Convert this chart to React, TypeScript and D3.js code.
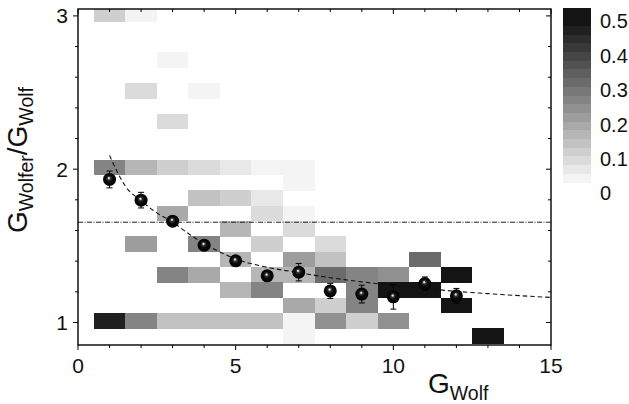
import React from "react";
import * as d3 from "d3";

// Axis ticks
const xMajorTicks = [0, 5, 10, 15];
const yMajorTicks = [1, 2, 3];
const colorbarTicks = [0, 0.1, 0.2, 0.3, 0.4, 0.5];

// Heat-map rows: ratio bin -> [G_Wolf column, fraction]
const row30: [number, number][] = [[1, 0.095], [2, 0.015]];
const row27: [number, number][] = [[3, 0.01]];
const row25: [number, number][] = [[2, 0.055], [4, 0.012]];
const row23: [number, number][] = [[3, 0.06]];
const row20: [number, number][] = [[1, 0.235], [2, 0.14], [3, 0.095], [4, 0.06], [5, 0.03], [6, 0.012], [7, 0.01]];
const row19: [number, number][] = [[7, 0.01]];
const row18: [number, number][] = [[4, 0.11], [5, 0.085], [6, 0.03]];
const row17: [number, number][] = [[3, 0.16], [6, 0.055], [7, 0.01]];
const row16: [number, number][] = [[5, 0.14], [7, 0.055]];
const row15: [number, number][] = [[2, 0.185], [4, 0.23], [6, 0.085], [8, 0.055]];
const row14: [number, number][] = [[5, 0.14], [7, 0.18], [8, 0.11], [11, 0.28]];
const row13: [number, number][] = [[3, 0.235], [4, 0.16], [6, 0.13], [7, 0.13], [8, 0.28], [9, 0.23], [10, 0.205], [12, 0.48]];
const row12: [number, number][] = [[5, 0.14], [6, 0.23], [9, 0.23], [10, 0.48], [11, 0.48]];
const row11: [number, number][] = [[7, 0.16], [8, 0.085], [9, 0.23], [12, 0.48]];
const row10: [number, number][] = [[1, 0.43], [2, 0.23], [3, 0.11], [4, 0.11], [5, 0.11], [6, 0.11], [7, 0.01], [8, 0.205], [9, 0.085], [10, 0.205]];
const row09: [number, number][] = [[7, 0.01], [13, 0.48]];

const heatRows: [number, [number, number][]][] = [
  [3.0, row30], [2.7, row27], [2.5, row25], [2.3, row23], [2.0, row20],
  [1.9, row19], [1.8, row18], [1.7, row17], [1.6, row16], [1.5, row15],
  [1.4, row14], [1.3, row13], [1.2, row12], [1.1, row11], [1.0, row10], [0.9, row09],
];

// Mean ratio per G_Wolf with error bars
const meanX = [1, 2, 3, 4, 5, 6, 7, 8, 9, 10, 11, 12];
const meanRatio = [1.933, 1.798, 1.661, 1.504, 1.402, 1.304, 1.328, 1.206, 1.185, 1.167, 1.254, 1.174];
const meanErr = [0.055, 0.051, 0.03, 0.03, 0.03, 0.03, 0.057, 0.049, 0.058, 0.08, 0.043, 0.048];

// Fitted trend (dashed)
const fitX = [1, 1.25, 1.5, 2, 2.5, 3, 3.5, 4, 4.5, 5, 6, 7, 8, 9, 10, 11, 12, 13, 14, 15];
const fitRatio = [2.09, 1.98, 1.89, 1.795, 1.715, 1.655, 1.58, 1.515, 1.46, 1.415, 1.36, 1.325, 1.292, 1.265, 1.242, 1.222, 1.203, 1.188, 1.175, 1.163];

// Reference level (dash-dot)
const thresholdRatio = 1.654;

const W = 629;
const H = 404;
const left = 78, right = 551, top = 9, bottom = 345;
const font = "'Liberation Sans', Arial, sans-serif";

const x = d3.scaleLinear().domain([0, 15]).range([left, right]);
const y = d3.scaleLinear().domain([0.853, 3.045]).range([bottom, top]);

// 20 grey levels, top two identical
const levelColors = d3.range(20).map((i) =>
  d3.interpolateRgb("#f4f4f4", "#141414")(Math.min(i, 18) / 18)
);
const color = d3.scaleQuantize<string>().domain([0, 0.5]).range(levelColors);

// Colour bar geometry
const cbX0 = 563, cbX1 = 591, cbTop = 8, cbBottom = 182;
const cbBand = d3.scaleBand<number>().domain(d3.range(20)).range([cbBottom, cbTop]);
const cbLabel = d3.scaleLinear().domain([0, 0.5]).range([193, 21]);

export default function App() {
  const cells: { c: number; r: number; v: number }[] = [];
  heatRows.forEach(([r, list]) => list.forEach(([c, v]) => cells.push({ c, r, v })));

  const fitPath = d3
    .line<number>()
    .x((_, i) => x(fitX[i]))
    .y((d) => y(d))
    .curve(d3.curveMonotoneX)(fitRatio) as string;

  const xMinor = d3.range(0, 16);
  const yMinor = d3.range(0, 11).map((k) => 1 + k * 0.2);

  return (
    <svg
      width={W}
      height={H}
      style={{ position: "absolute", left: 0, top: 0, background: "#fff" }}
      fontFamily={font}
    >
      <defs>
        <clipPath id="plot">
          <rect x={left} y={top} width={right - left} height={bottom - top} />
        </clipPath>
        <radialGradient id="ball" cx="50%" cy="50%" r="52%" fx="44%" fy="38%">
          <stop offset="0%" stopColor="#ffffff" />
          <stop offset="10%" stopColor="#cfcfcf" />
          <stop offset="24%" stopColor="#3a3a3a" />
          <stop offset="48%" stopColor="#0c0c0c" />
          <stop offset="100%" stopColor="#000000" />
        </radialGradient>
      </defs>
      <rect x={0} y={0} width={W} height={H} fill="#fff" />

      <g clipPath="url(#plot)">
        {cells.map((d, i) => (
          <rect
            key={i}
            x={x(d.c - 0.5)}
            width={x(d.c + 0.5) - x(d.c - 0.5)}
            y={y(d.r + 0.062)}
            height={y(d.r - 0.04) - y(d.r + 0.062)}
            fill={color(d.v)}
            shapeRendering="crispEdges"
          />
        ))}
        <line
          x1={left}
          x2={right}
          y1={y(thresholdRatio)}
          y2={y(thresholdRatio)}
          stroke="#222"
          strokeWidth={1}
          strokeDasharray="5,1.5,1,1.5"
        />
        <path d={fitPath} fill="none" stroke="#111" strokeWidth={1.1} strokeDasharray="4.5,3" />
      </g>

      {meanX.map((mx, i) => {
        const cx = x(mx);
        const y0 = y(meanRatio[i] - meanErr[i]);
        const y1 = y(meanRatio[i] + meanErr[i]);
        return (
          <g key={i} stroke="#000" strokeWidth={1}>
            <line x1={cx} x2={cx} y1={y0} y2={y1} />
            <line x1={cx - 3} x2={cx + 3} y1={y0} y2={y0} />
            <line x1={cx - 3} x2={cx + 3} y1={y1} y2={y1} />
          </g>
        );
      })}
      {meanX.map((mx, i) => (
        <circle key={i} cx={x(mx)} cy={y(meanRatio[i])} r={6.5} fill="url(#ball)" />
      ))}

      {/* frame */}
      <rect x={left} y={top} width={right - left} height={bottom - top} fill="none" stroke="#000" strokeWidth={1.4} />

      {/* x ticks: bottom outward, top inward */}
      {xMinor.map((t) => {
        const len = xMajorTicks.includes(t) ? 5 : 3;
        return (
          <g key={t} stroke="#000" strokeWidth={1}>
            <line x1={x(t)} x2={x(t)} y1={bottom} y2={bottom + len} />
            <line x1={x(t)} x2={x(t)} y1={top} y2={top + len} />
          </g>
        );
      })}
      {/* y ticks: left outward, right inward */}
      {yMinor.map((t, i) => {
        const len = i % 5 === 0 ? 5 : 3;
        return (
          <g key={i} stroke="#000" strokeWidth={1}>
            <line x1={left - len} x2={left} y1={y(t)} y2={y(t)} />
            <line x1={right - len} x2={right} y1={y(t)} y2={y(t)} />
          </g>
        );
      })}

      {xMajorTicks.map((t) => (
        <text key={t} x={x(t)} y={373} fontSize={21} textAnchor="middle" fill="#111">
          {t}
        </text>
      ))}
      {yMajorTicks.map((t) => (
        <text key={t} x={68} y={y(t) + 7.5} fontSize={21} textAnchor="end" fill="#111">
          {t}
        </text>
      ))}

      {/* axis titles */}
      <text x={428} y={393} fill="#111">
        <tspan fontSize={28}>G</tspan>
        <tspan fontSize={19.5} dy={7}>Wolf</tspan>
      </text>
      <text transform="translate(27,233) rotate(-90)" fill="#111">
        <tspan fontSize={28}>G</tspan>
        <tspan fontSize={19.5} dy={6}>Wolfer</tspan>
        <tspan fontSize={28} dy={-6}>/G</tspan>
        <tspan fontSize={19.5} dy={6}>Wolf</tspan>
      </text>

      {/* colour bar */}
      {d3.range(20).map((i) => (
        <rect
          key={i}
          x={cbX0}
          width={cbX1 - cbX0}
          y={cbBand(i)!}
          height={cbBand.bandwidth() + 0.5}
          fill={levelColors[i]}
          shapeRendering="crispEdges"
        />
      ))}
      {colorbarTicks.map((t) => (
        <text key={t} x={600} y={cbLabel(t) + 7.3} fontSize={20} fill="#111">
          {t}
        </text>
      ))}
    </svg>
  );
}
